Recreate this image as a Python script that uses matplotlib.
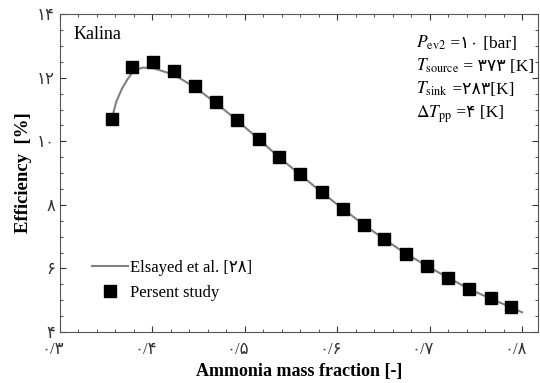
import matplotlib
matplotlib.use("Agg")
import matplotlib.pyplot as plt
import matplotlib.transforms as mtransforms
from matplotlib.ticker import MultipleLocator

# values
x_study = [0.356, 0.378, 0.401, 0.423, 0.446, 0.4685, 0.492, 0.515, 0.537, 0.560,
           0.583, 0.606, 0.629, 0.651, 0.674, 0.697, 0.720, 0.743, 0.766, 0.788]
eff_study = [10.70, 12.35, 12.48, 12.20, 11.75, 11.23, 10.67, 10.07, 9.51, 8.96,
             8.40, 7.88, 7.37, 6.92, 6.47, 6.08, 5.71, 5.35, 5.06, 4.80]

x_ref = [0.356, 0.361, 0.367, 0.373, 0.378, 0.384, 0.390, 0.401, 0.423, 0.446, 0.469,
         0.492, 0.515, 0.537, 0.560, 0.583, 0.606, 0.629, 0.651, 0.674, 0.697,
         0.720, 0.743, 0.766, 0.788, 0.800]
eff_ref = [10.70, 11.25, 11.65, 11.95, 12.15, 12.27, 12.32, 12.30, 12.10, 11.70, 11.20,
           10.65, 10.07, 9.50, 8.95, 8.40, 7.88, 7.37, 6.92, 6.47, 6.08,
           5.71, 5.35, 5.05, 4.78, 4.62]

x_ticks = [0.3, 0.4, 0.5, 0.6, 0.7, 0.8]
y_ticks = [4, 6, 8, 10, 12, 14]

fa = str.maketrans("0123456789.", "۰۱۲۳۴۵۶۷۸۹/")
def fa_num(s):
    return s.translate(fa)

fam = ["Liberation Serif", "DejaVu Sans"]
plt.rcParams["font.family"] = fam
plt.rcParams["mathtext.fontset"] = "stix"

fig = plt.figure(figsize=(5.4, 3.83), dpi=100)
ax = fig.add_axes([0.111, 0.133, 0.885, 0.83])

ax.plot(x_ref, eff_ref, color="#808080", lw=1.5, label="Elsayed et al. [" + fa_num("28") + "]")
ax.plot(x_study, eff_study, ls="none", marker="s", ms=8, color="black",
        label="Persent study")

ax.set_xlim(0.3, 0.817)
ax.set_ylim(4, 14)
ax.set_xticks(x_ticks)
ax.set_xticklabels([fa_num("0.%d" % round(v * 10)) for v in x_ticks])
ax.set_yticks(y_ticks)
ax.set_yticklabels([fa_num(str(v)) for v in y_ticks])
ax.xaxis.set_minor_locator(MultipleLocator(0.02))
ax.yaxis.set_minor_locator(MultipleLocator(0.5))
ax.tick_params(which="both", direction="in", top=True, right=True, labelsize=12, colors="#333333")
ax.tick_params(axis="x", which="major", pad=7)
ax.tick_params(which="major", length=4)
ax.tick_params(which="minor", length=2.5)
# x tick labels sit a little left of their ticks in the reference
shift = mtransforms.ScaledTranslation(-7 / 100, 0, fig.dpi_scale_trans)
for lab in ax.get_xticklabels():
    lab.set_transform(lab.get_transform() + shift)
for sp in ax.spines.values():
    sp.set_color("#555555")

ax.set_xlabel("Ammonia mass fraction [-]", fontsize=13, fontweight="bold", labelpad=4)
ax.set_ylabel("Efficiency  [%]", fontsize=13.5, fontweight="bold")

ax.text(0.028, 0.935, "Kalina", transform=ax.transAxes, fontsize=13, va="center")

params = [(r"$P_{\mathrm{ev2}}$", " =" + fa_num("10") + " [bar]"),
          (r"$T_{\mathrm{source}}$", " = " + fa_num("373") + " [K]"),
          (r"$T_{\mathrm{sink}}$", " =" + fa_num("283") + "[K]"),
          (r"$\Delta T_{\mathrm{pp}}$", " =" + fa_num("4") + " [K]")]
for i, (sym, rest) in enumerate(params):
    yy = 0.895 - i * 0.073
    t = ax.text(0.745, yy, sym, transform=ax.transAxes, fontsize=12.5, va="baseline")
    ax.annotate(rest, xy=(1, yy), xycoords=(t, "axes fraction"), va="baseline",
                ha="left", fontsize=12.5)

ax.legend(loc="lower left", bbox_to_anchor=(0.035, 0.05), frameon=False, fontsize=12,
          handlelength=2.2, handletextpad=0.1, labelspacing=0.55)

fig.savefig("out.png", dpi=100)
